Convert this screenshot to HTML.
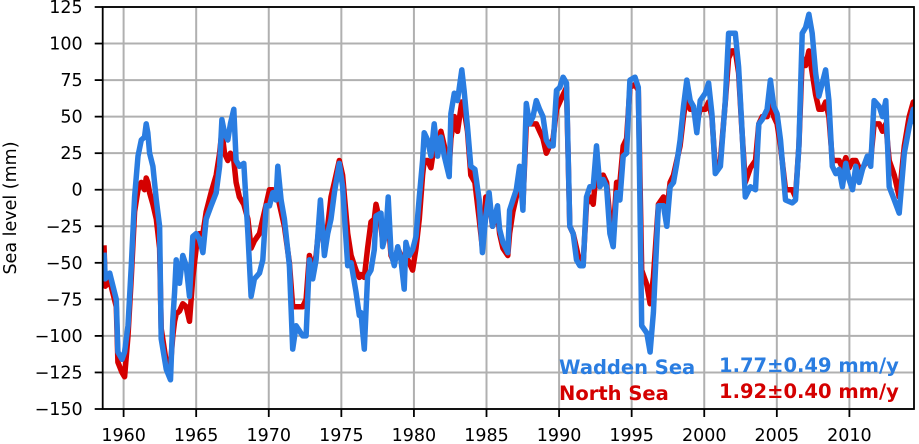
<!DOCTYPE html>
<html><head><meta charset="utf-8"><style>
html,body{margin:0;padding:0;background:#fff;}
svg{display:block;font-family:"DejaVu Sans","Liberation Sans",sans-serif;}
</style></head><body>
<svg id="chart" width="919" height="444" viewBox="0 0 919 444" xmlns="http://www.w3.org/2000/svg"></svg>
<script>
const years=[1958.65,1958.74,1959.04,1959.50,1959.61,1959.89,1960.07,1960.30,1960.53,1960.76,1960.99,1961.22,1961.44,1961.56,1961.67,1961.79,1962.02,1962.25,1962.48,1962.59,1962.94,1963.23,1963.39,1963.51,1963.62,1963.85,1964.08,1964.31,1964.54,1964.77,1965.00,1965.23,1965.46,1965.69,1966.03,1966.38,1966.61,1966.77,1966.95,1967.18,1967.36,1967.59,1967.75,1967.98,1968.28,1968.56,1968.78,1969.01,1969.36,1969.59,1969.82,1970.05,1970.28,1970.50,1970.62,1970.85,1971.08,1971.42,1971.65,1971.88,1972.34,1972.57,1972.80,1973.03,1973.26,1973.56,1973.83,1974.06,1974.29,1974.52,1974.86,1975.09,1975.44,1975.67,1976.01,1976.24,1976.35,1976.58,1976.81,1977.04,1977.27,1977.39,1977.73,1977.84,1978.07,1978.23,1978.42,1978.65,1978.88,1979.11,1979.33,1979.45,1979.68,1979.91,1980.14,1980.37,1980.60,1980.71,1980.94,1981.17,1981.40,1981.63,1981.86,1982.09,1982.43,1982.55,1982.78,1983.00,1983.30,1983.46,1983.69,1983.92,1984.20,1984.50,1984.72,1984.95,1985.18,1985.41,1985.76,1985.90,1986.13,1986.47,1986.59,1986.82,1987.05,1987.28,1987.51,1987.74,1987.97,1988.20,1988.43,1988.66,1988.89,1989.12,1989.35,1989.59,1989.82,1990.05,1990.28,1990.51,1990.74,1990.97,1991.20,1991.43,1991.66,1991.89,1992.12,1992.35,1992.58,1992.81,1993.04,1993.27,1993.50,1993.73,1993.96,1994.19,1994.42,1994.65,1994.88,1995.23,1995.46,1995.69,1996.04,1996.27,1996.50,1996.84,1997.19,1997.42,1997.65,1997.88,1998.11,1998.34,1998.57,1998.80,1999.03,1999.26,1999.49,1999.72,2000.07,2000.30,2000.53,2000.76,2001.11,2001.45,2001.68,2001.91,2002.14,2002.37,2002.60,2002.83,2003.18,2003.53,2003.76,2003.99,2004.33,2004.56,2004.79,2005.02,2005.25,2005.60,2006.06,2006.29,2006.52,2006.75,2006.98,2007.21,2007.44,2007.67,2007.90,2008.13,2008.36,2008.59,2008.82,2009.06,2009.29,2009.52,2009.75,2009.98,2010.21,2010.44,2010.67,2010.90,2011.24,2011.47,2011.70,2012.05,2012.28,2012.51,2012.74,2013.09,2013.43,2013.78,2014.12,2014.40,2014.54];
const waddenSea=[-43,-61,-57,-75,-111,-116,-111,-93,-52,-5,23,34,36,45,39,25,16,-7,-25,-102,-123,-130,-89,-70,-48,-64,-45,-52,-73,-32,-30,-34,-43,-20,-11,-2,16,48,39,34,45,55,20,16,18,-30,-73,-61,-57,-48,-11,-11,-2,-7,16,-7,-20,-52,-109,-93,-100,-100,-48,-61,-48,-7,-45,-30,-20,-2,18,2,-52,-50,-70,-86,-84,-109,-59,-55,-41,-18,-16,-39,-30,-5,-43,-52,-39,-48,-68,-36,-45,-41,-32,-5,20,39,34,23,45,23,36,23,9,52,66,61,82,68,43,16,14,-7,-43,-18,-2,-25,-11,-27,-36,-43,-14,-7,0,16,-14,59,45,50,61,55,50,34,30,30,68,70,77,73,-25,-30,-48,-52,-52,-5,2,2,30,2,7,2,-30,-39,-2,-7,23,25,75,77,70,-93,-98,-111,-84,-11,-11,-25,2,5,18,34,57,75,61,57,39,61,66,73,52,11,16,61,107,107,107,84,41,-5,2,0,45,48,55,75,57,52,34,-7,-9,-7,30,107,111,120,107,80,64,73,82,61,16,11,14,2,18,7,0,16,5,14,23,16,61,57,50,61,2,-7,-16,25,43,55,45];
const northSea=[-38,-66,-62,-80,-118,-125,-128,-100,-60,-15,0,5,0,8,5,-2,-10,-20,-40,-95,-118,-120,-100,-90,-85,-83,-78,-80,-90,-60,-40,-30,-30,-15,-2,10,25,40,25,20,25,20,5,-5,-10,-20,-40,-35,-30,-20,-10,0,0,-5,-5,-15,-25,-50,-80,-80,-80,-75,-45,-55,-45,-15,-40,-25,-5,5,20,10,-30,-45,-55,-60,-58,-60,-40,-22,-20,-10,-25,-35,-30,-20,-45,-50,-40,-45,-52,-45,-50,-55,-40,-20,10,20,20,15,30,25,40,30,15,35,50,40,60,55,40,10,5,-20,-40,-5,-5,-25,-15,-30,-40,-45,-30,-15,-5,10,-10,45,45,45,45,40,35,25,30,35,55,60,65,70,-25,-30,-40,-50,-50,-10,-5,-10,15,5,10,5,-20,-30,5,5,30,35,70,72,68,-55,-65,-78,-60,-10,-5,-15,5,10,20,30,50,65,55,55,45,55,55,60,50,15,20,60,90,95,95,80,40,5,15,20,45,50,50,60,50,45,30,0,0,-5,30,90,85,95,80,65,55,55,60,50,20,20,20,15,22,15,20,20,15,15,20,20,45,45,40,45,20,10,-5,30,50,60,55];
const yTicks=[125,100,75,50,25,0,-25,-50,-75,-100,-125,-150];
const xTicks=[1960,1965,1970,1975,1980,1985,1990,1995,2000,2005,2010];

const L=102.7,R=914,T=7,B=409;
const X0=1958.56,X1=2014.45,Y0=-150,Y1=125;
function xs(v){return L+(v-X0)/(X1-X0)*(R-L);}
function ys(v){return B-(v-Y0)/(Y1-Y0)*(B-T);}
const NS="http://www.w3.org/2000/svg";
const svg=document.getElementById('chart');
function mk(tag,attrs,parent){const e=document.createElementNS(NS,tag);for(const k in attrs)e.setAttribute(k,attrs[k]);(parent||svg).appendChild(e);return e;}

const defs=mk('defs',{});
const cp=mk('clipPath',{id:'clip'},defs);
mk('rect',{x:L,y:T,width:R-L,height:B-T},cp);

const grid=mk('g',{});


yTicks.forEach(v=>{
  const y=ys(v);
  const l=mk('line',{x1:L,x2:R,y1:y,y2:y,stroke:'#b0b0b0','stroke-width':2},grid);
  
  
  const t=mk('line',{x1:L-8,x2:L,y1:y,y2:y,stroke:'#000','stroke-width':1.8});
  
  
  const tx=mk('text',{x:L-20,y:y+6,'text-anchor':'end','font-size':17.5,fill:'#000'});
  tx.textContent=(v<0?'\u2212'+Math.abs(v):String(v));
  
  
});
xTicks.forEach(v=>{
  const x=xs(v);
  const l=mk('line',{x1:x,x2:x,y1:T,y2:B,stroke:'#b0b0b0','stroke-width':2},grid);
  
  
  const t=mk('line',{x1:x,x2:x,y1:B,y2:B+8,stroke:'#000','stroke-width':1.8});
  
  
  const tx=mk('text',{x:x,y:B+32,'text-anchor':'middle','font-size':17.5,fill:'#000'});
  tx.textContent=String(v);
  
  
});

function series(vals,color,name){
  const d=years.map((yr,i)=>(i?'L':'M')+xs(yr).toFixed(1)+','+ys(vals[i]).toFixed(1)).join(' ');
  const p=mk('path',{d:d,fill:'none',stroke:color,'stroke-width':5.5,'stroke-linejoin':'round','clip-path':'url(#clip)'});
  
  
}
series(northSea,'#d40000','north-sea-line');
series(waddenSea,'#2a7de1','wadden-sea-line');

const frame=mk('rect',{x:L,y:T,width:R-L,height:B-T,fill:'none',stroke:'#000','stroke-width':1.8});



const yt=mk('text',{x:0,y:0,transform:'translate(16,208) rotate(-90)','text-anchor':'middle','font-size':17.5,fill:'#000'});
yt.textContent='Sea level (mm)';



function lg(x,y,txt,color,name){
  const t=mk('text',{x:x,y:y,'font-size':19.5,'font-weight':'bold',fill:color});
  t.textContent=txt;
  
  
}
lg(559,374,'Wadden Sea','#2a7de1','legend-wadden-sea');
lg(719,372,'1.77\u00b10.49 mm/y','#2a7de1','legend-wadden-sea-trend');
lg(559,400,'North Sea','#d40000','legend-north-sea');
lg(719,398,'1.92\u00b10.40 mm/y','#d40000','legend-north-sea-trend');
</script>
</body></html>
